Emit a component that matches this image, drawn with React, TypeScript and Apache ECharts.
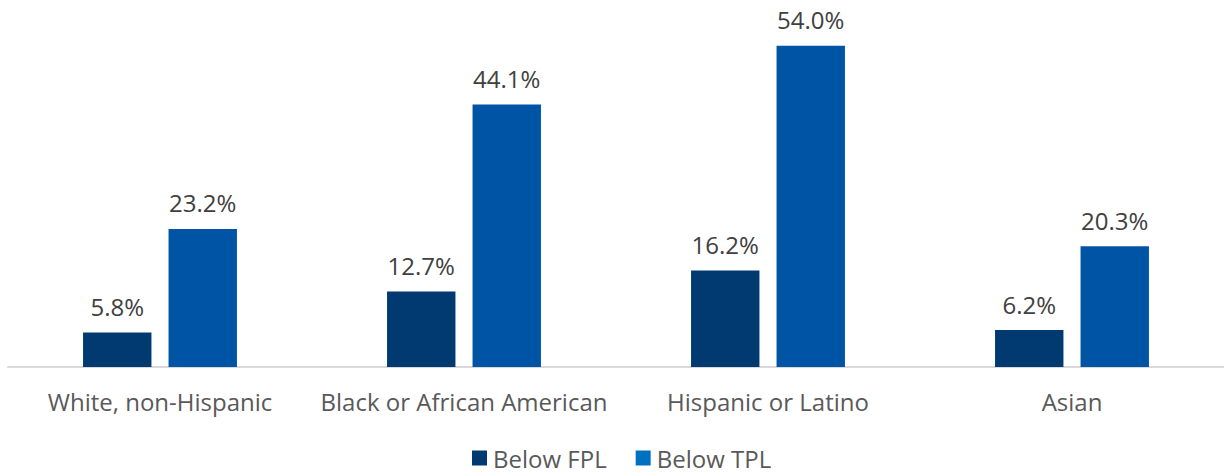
import React, { useEffect, useRef } from "react";
import * as echarts from "echarts";

const categories = ["White, non-Hispanic", "Black or African American", "Hispanic or Latino", "Asian"];
const belowFPL = [5.8, 12.7, 16.2, 6.2];
const belowTPL = [23.2, 44.1, 54.0, 20.3];
const seriesNames = ["Below FPL", "Below TPL"];

const FONT = "'Open Sans', 'Noto Sans', sans-serif";

export default function App() {
  const ref = useRef<HTMLDivElement>(null);
  useEffect(() => {
    const chart = echarts.init(ref.current!, undefined, { renderer: "svg" });
    const label = {
      show: true,
      position: "top" as const,
      distance: 14,
      formatter: (p: any) => p.value.toFixed(1) + "%",
      color: "#404040",
      fontSize: 24,
      fontFamily: FONT,
    };
    chart.setOption({
      animation: false,
      grid: { left: 8, width: 1218, top: 10, height: 357, containLabel: false },
      legend: {
        top: 441,
        left: 467,
        itemWidth: 15,
        itemHeight: 15,
        itemGap: 29,
        icon: "rect",
        textStyle: { color: "#595959", fontSize: 24, fontFamily: FONT, padding: [0, 0, 0, 1] },
        data: [
          { name: seriesNames[0], itemStyle: { color: "#003A70" } },
          { name: seriesNames[1], itemStyle: { color: "#0070C0" } },
        ],
      },
      xAxis: {
        type: "category",
        data: categories,
        axisLine: { lineStyle: { color: "#D9D9D9", width: 2 } },
        axisTick: { show: false },
        axisLabel: { color: "#595959", fontSize: 24, fontFamily: FONT, margin: 22, interval: 0 },
      },
      yAxis: {
        type: "value",
        min: 0,
        max: 60,
        show: false,
        splitLine: { show: false },
      },
      series: [
        {
          name: seriesNames[0],
          type: "bar",
          data: belowFPL,
          barWidth: "22.5%",
          barGap: "25%",
          itemStyle: { color: "#003A70" },
          label,
        },
        {
          name: seriesNames[1],
          type: "bar",
          data: belowTPL,
          barWidth: "22.5%",
          itemStyle: { color: "#0054A6" },
          label,
        },
      ],
    });
    return () => chart.dispose();
  }, []);
  return (
    <div
      ref={ref}
      style={{ position: "absolute", left: 0, top: 0, width: 1224, height: 473 }}
    />
  );
}
